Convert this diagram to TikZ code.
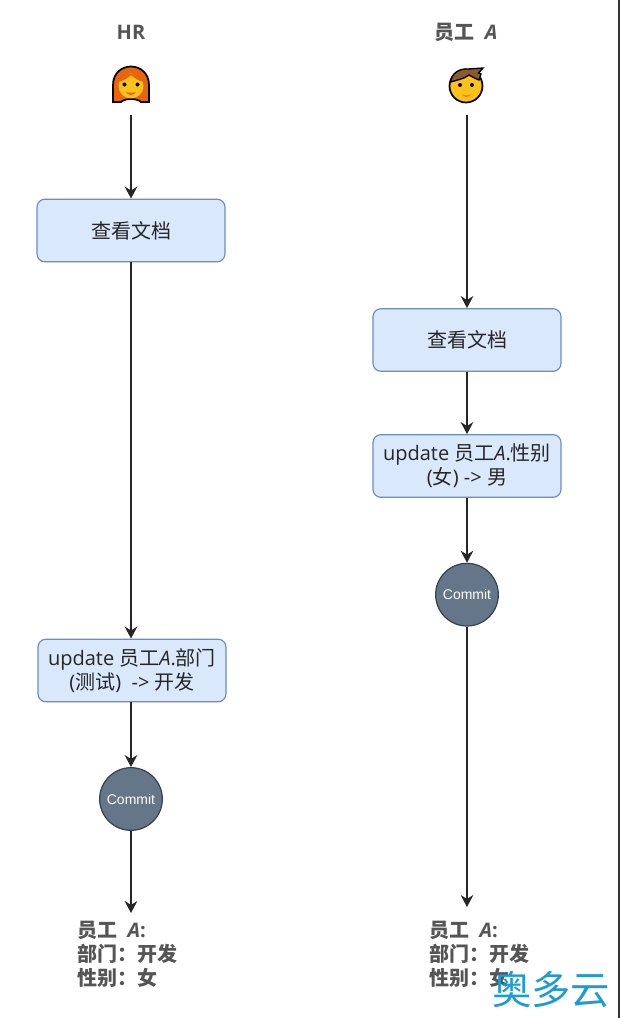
\documentclass[tikz,border=0pt]{standalone}
\usepackage{fontspec}
\usepackage{xcolor}
\setmainfont{Open Sans}
\newfontfamily\cjk{Noto Sans CJK SC}
\newfontfamily\cjkbold{Noto Sans CJK SC Bold}
\newfontfamily\arialfont{Liberation Sans}
\usetikzlibrary{arrows.meta,positioning}
\definecolor{boxfill}{HTML}{DAE8FC}
\definecolor{boxline}{HTML}{6C8EBF}
\definecolor{commitfill}{HTML}{647687}
\definecolor{commitline}{HTML}{314354}
\definecolor{labelgray}{HTML}{555555}
\definecolor{markblue}{HTML}{1E9AD6}
\definecolor{hairgirl}{HTML}{E8640F}
\definecolor{hairboy}{HTML}{8A5A2B}
\definecolor{skin}{HTML}{FCC21B}
\tikzset{%
	process/.style  = {draw=boxline, fill=boxfill, line width=0.9pt, rectangle, rounded corners=6pt, minimum width=141pt, minimum height=47pt, align=center, text=black!85, font=\fontsize{15}{18}\selectfont, inner sep=0pt},
	commit/.style   = {draw=commitline, fill=commitfill, line width=0.9pt, circle, minimum size=47pt, inner sep=0pt, text=white, font=\arialfont\fontsize{10.5}{12}\selectfont},
	title/.style    = {text=labelgray, font=\fontsize{15}{17}\selectfont\bfseries},
	result/.style   = {text=labelgray, align=left, inner sep=0pt, font=\fontsize{15}{18}\selectfont\bfseries},
	waypoint/.style = {coordinate},
	arrow/.style    = {line width=1.1pt, draw=black!85, -{Stealth[length=9pt,width=9.5pt]}},
}
\newcommand{\zh}[1]{{\cjk #1}}
\newcommand{\zb}[1]{{\cjkbold #1}}
\begin{document}
\begin{tikzpicture}[x=0.75pt,y=-0.75pt]
	\useasboundingbox (0,0) rectangle (620,1018);
	\draw[line width=1.2pt,black!80] (619,0) -- (619,1018);
	
	% left lane
	\node[title] (hr) at (131,32) {HR};
	\node[waypoint] (wp1) at (131,115) {};
	\node[process] (view1) at (131,230.5) {\zh{查看文档}};
	\node[process] (update1) at (132,670.5) {update \zh{员工}\textit{A}.\zh{部门}\\(\zh{测试})\ \ -> \zh{开发}};
	\node[commit] (commit1) at (131,799) {Commit};
	\node[waypoint] (wp2) at (131,913) {};
	\node[result,anchor=north west] (state1) at (77,921) {\zb{员工}\ \ \textit{A}:\\\zb{部门：开发}\\\zb{性别：女}};
	
	% right lane
	\node[title] (emp) at (466,32) {\zb{员工}\ \ \textit{A}};
	\node[waypoint] (wp3) at (467,115) {};
	\node[process] (view2) at (467,340) {\zh{查看文档}};
	\node[process,below of=view2,node distance=94.5pt] (update2) {update \zh{员工}\textit{A}.\zh{性别}\\(\zh{女}) -> \zh{男}};
	\node[commit,below of=update2,node distance=96.5pt] (commit2) {Commit};
	\node[waypoint] (wp4) at (467,907) {};
	\node[result,anchor=north west] (state2) at (429,921) {\zb{员工}\ \ \textit{A}:\\\zb{部门：开发}\\\zb{性别：女}};
	
	\node[text=markblue,inner sep=0pt,font=\cjk\fontsize{29.5}{30}\selectfont] (mark) at (551,990) {奥多云};
	
	\draw[arrow] (wp1) -- (view1);
	\draw[arrow] (view1) -- (update1.north -| view1);
	\draw[arrow] (update1.south -| commit1) -- (commit1);
	\draw[arrow] (commit1) -- (wp2);
	\draw[arrow] (wp3) -- (view2);
	\draw[arrow] (view2) -- (update2);
	\draw[arrow] (update2) -- (commit2);
	\draw[arrow] (commit2) -- (wp4);
	
	% girl
	\begin{scope}[shift={(131,85)}]
		\draw[fill=hairgirl,line width=1.3pt] (-18,17) -- (-18,0) .. controls (-18,-12) and (-9,-18.5) .. (0,-18.5) .. controls (9,-18.5) and (18,-12) .. (18,0) -- (18,17) -- (10,17) .. controls (6,13) and (-6,13) .. (-10,17) -- cycle;
		\fill[skin] (0,1) circle (12.5);
		\fill[hairgirl] (-13,-3) .. controls (-8,-4) and (-3,-7) .. (0,-10) .. controls (3,-7) and (8,-4) .. (13,-3) .. controls (12,-14) and (-12,-14) .. (-13,-3) -- cycle;
		\fill[black] (-6.5,-0.5) circle (2) (6.5,-0.5) circle (2);
		\fill[hairgirl] (-5,7) .. controls (-2,8) and (2,8) .. (5,7) .. controls (3,11) and (-3,11) .. (-5,7) -- cycle;
	\end{scope}
	
	% boy
	\begin{scope}[shift={(466,86)}]
		\draw[fill=skin,line width=1.3pt] (0,0) circle (16.5);
		\draw[fill=hairboy,line width=1pt] (-15.5,-4) .. controls (-14,-13) and (-7,-17.5) .. (2,-17) -- (17,-18) -- (12.5,-13) -- (15,-12) -- (13,-6) .. controls (8,-8) and (5,-10) .. (3,-11) .. controls (-2,-7) and (-9,-6) .. (-15.5,-4) -- cycle;
		\fill[black] (-6,-1) circle (2) (6,-1) circle (2);
		\fill[hairgirl!70!skin] (-4,8) .. controls (-1,10) and (2,10) .. (5,8) .. controls (3,12) and (-2,12) .. (-4,8) -- cycle;
	\end{scope}
\end{tikzpicture}
\end{document}
